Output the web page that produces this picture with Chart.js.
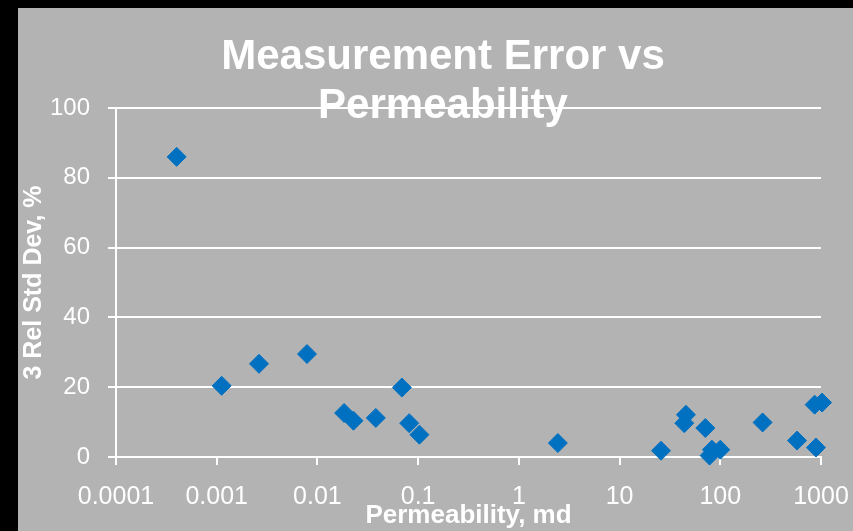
<!DOCTYPE html>
<html>
<head>
<meta charset="utf-8">
<script src="https://cdn.jsdelivr.net/npm/chart.js@4"></script>
<style>
  html, body { margin: 0; padding: 0; background: #000000; width: 853px; height: 531px; overflow: hidden; }
  #wrap { position: absolute; left: 18px; top: 8px; width: 835px; height: 523px; background: #B3B3B3; }
  canvas { display: block; }
</style>
</head>
<body>
<div id="wrap"><canvas id="c" width="835" height="523"></canvas></div>
<script>
// ---- data ----
const permeability = [0.00040, 0.00112, 0.00263, 0.00788, 0.0184, 0.0228, 0.038, 0.0689, 0.0815, 0.103,
                      2.44, 25.8, 45.6, 43.9, 71, 82.6, 78.3, 100, 263, 578, 891, 865, 1024];
const relStdDev    = [86.0, 20.4, 26.7, 29.5, 12.6, 10.4, 11.2, 19.9, 9.7, 6.4,
                      4.0, 1.8, 12.1, 9.7, 8.3, 2.1, 0.4, 2.1, 9.9, 4.7, 2.7, 15.0, 15.6];
const xTickValues = [0.0001, 0.001, 0.01, 0.1, 1, 10, 100, 1000];
const xTickLabels = ["0.0001", "0.001", "0.01", "0.1", "1", "10", "100", "1000"];
const yTickValues = [0, 20, 40, 60, 80, 100];
const titleLines = ["Measurement Error vs", "Permeability"];
const xTitle = "Permeability, md";
const yTitle = "3 Rel Std Dev, %";

const FONT = "'Liberation Sans', Arial, sans-serif";
const points = permeability.map((x, i) => ({ x: x, y: relStdDev[i] }));

const titlePlugin = {
  id: 'overlayTitle',
  afterDraw(chart) {
    const ctx = chart.ctx;
    ctx.save();
    ctx.fillStyle = '#FFFFFF';
    ctx.font = 'bold 42px ' + FONT;
    ctx.textAlign = 'center';
    ctx.textBaseline = 'alphabetic';
    ctx.fillText(titleLines[0], 425, 61);
    ctx.fillText(titleLines[1], 425, 110);
    ctx.restore();
  }
};

new Chart(document.getElementById('c'), {
  type: 'scatter',
  data: {
    datasets: [{
      data: points,
      pointStyle: 'rectRot',
      pointRadius: 9.5,
      pointHoverRadius: 9.5,
      backgroundColor: '#0070C0',
      borderColor: '#0070C0',
      borderWidth: 1,
      clip: false
    }]
  },
  options: {
    responsive: false,
    animation: false,
    layout: { padding: { top: 100, right: 32, bottom: 0, left: 0 } },
    plugins: {
      legend: { display: false },
      tooltip: { enabled: false },
      title: { display: false }
    },
    scales: {
      x: {
        type: 'logarithmic',
        min: 0.0001,
        max: 1000,
        afterBuildTicks(scale) { scale.ticks = xTickValues.map(v => ({ value: v })); },
        afterFit(scale) { scale.height = 74; scale.paddingLeft = 0; scale.paddingRight = 0; },
        grid: { drawOnChartArea: false, drawTicks: true, tickLength: 8, color: '#FFFFFF', lineWidth: 2 },
        border: { display: true, color: '#FFFFFF', width: 2 },
        ticks: {
          color: '#FFFFFF',
          font: { family: FONT, size: 25 },
          padding: 17,
          maxRotation: 0,
          autoSkip: false,
          callback(value, index) { return xTickLabels[xTickValues.indexOf(value)] ?? ''; }
        },
        title: {
          display: true,
          text: xTitle,
          color: '#FFFFFF',
          font: { family: FONT, size: 26, weight: 'bold' },
          padding: { top: 0, bottom: 0 }
        }
      },
      y: {
        min: 0,
        max: 100,
        afterBuildTicks(scale) { scale.ticks = yTickValues.map(v => ({ value: v })); },
        afterFit(scale) { scale.width = 98; scale.paddingTop = 0; scale.paddingBottom = 0; },
        grid: { drawOnChartArea: true, drawTicks: true, tickLength: 8, color: '#FFFFFF', lineWidth: 2 },
        border: { display: true, color: '#FFFFFF', width: 2 },
        ticks: {
          color: '#FFFFFF',
          font: { family: FONT, size: 24 },
          padding: 18
        },
        title: {
          display: true,
          text: yTitle,
          color: '#FFFFFF',
          font: { family: FONT, size: 25, weight: 'bold' },
          padding: { top: 1, bottom: 0 }
        }
      }
    }
  },
  plugins: [titlePlugin]
});
</script>
</body>
</html>
